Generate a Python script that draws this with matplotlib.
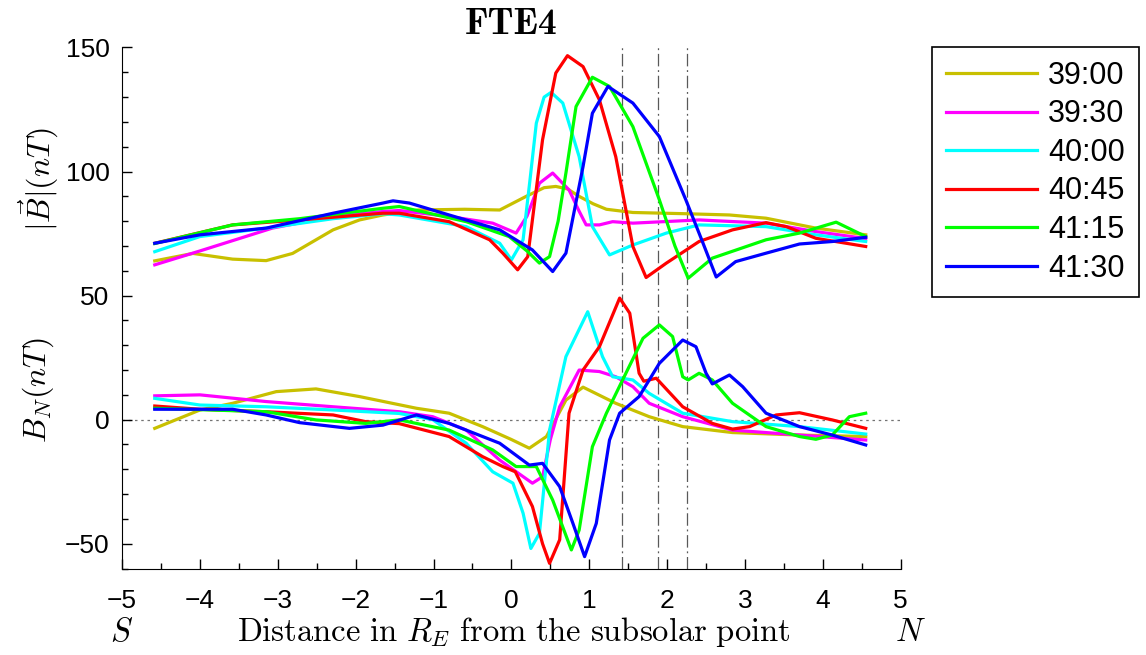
import os
import matplotlib
matplotlib.use("Agg")
import matplotlib.pyplot as plt
from matplotlib.ticker import MultipleLocator
from matplotlib.font_manager import FontProperties

plt.rcParams["font.family"] = ["Liberation Sans", "DejaVu Sans"]
plt.rcParams["mathtext.fontset"] = "cm"

times = ["39:00", "39:30", "40:00", "40:45", "41:15", "41:30"]
colors = ["#c8c000", "#ff00ff", "#00ffff", "#ff0000", "#00ff00", "#0000ff"]
cuts = [1.42, 1.88, 2.25]

# ── |B| (nT) ───────────────────────────────────────────
b3900_x = [-4.58, -4.09, -3.58, -3.15, -2.81, -2.29, -1.95, -1.65, -1.2, -0.6, -0.15, 0.19,
           0.42, 0.57, 0.72, 0.87, 1.05, 1.22, 1.56, 2.24, 2.8, 3.27, 3.91, 4.55]
b3900_y = [64, 67, 64.7, 64.1, 67, 76.5, 80.5, 82.5, 84.5, 84.8, 84.5, 90,
           93.5, 94, 93, 90, 87, 84.8, 83.5, 83, 82.5, 81.2, 77.2, 74.5]
b3930_x = [-4.58, -4.0, -3.07, -2.29, -1.65, -1.44, -0.80, -0.24, 0.06, 0.2, 0.36, 0.53,
           0.74, 0.87, 0.96, 1.13, 1.30, 1.56, 2.41, 3.27, 3.91, 4.55]
b3930_y = [62.4, 68, 77.2, 81.9, 83.9, 84.3, 81.9, 79.2, 75.2, 82, 95.3, 99.4,
           92.6, 84, 78.5, 78.5, 79.8, 79.2, 80.5, 79.2, 75.8, 73]
b4000_x = [-4.58, -4.0, -3.15, -2.29, -1.65, -1.44, -0.58, -0.15, 0.0, 0.15, 0.24, 0.32,
           0.42, 0.51, 0.66, 0.87, 1.04, 1.26, 1.56, 1.99, 2.41, 3.27, 3.91, 4.55]
b4000_y = [67.7, 73.8, 77.2, 81, 83, 82.5, 77.8, 71.1, 64.4, 72.5, 97, 119.5,
           130, 131.9, 127.6, 106, 77.8, 66.4, 70.4, 75.2, 78.5, 77.8, 74.5, 71.8]
b4045_x = [-4.58, -3.58, -2.72, -1.65, -1.44, -0.80, -0.28, -0.11, 0.08, 0.21, 0.30, 0.40,
           0.57, 0.72, 0.92, 1.13, 1.34, 1.56, 1.73, 1.99, 2.41, 2.84, 3.27, 3.53, 3.91, 4.55]
b4045_y = [71.1, 78.5, 80.5, 83.2, 83.2, 79.8, 72.5, 67.1, 60.4, 65.7, 88, 112.8,
           139.7, 146.7, 142.3, 128.9, 106, 69.8, 57.3, 63.1, 71.8, 76.5, 79.4, 77.8, 73.1, 69.8]
b4115_x = [-4.58, -3.58, -2.72, -1.65, -1.44, -0.58, -0.03, 0.2, 0.36, 0.49, 0.60, 0.70,
           0.83, 1.04, 1.26, 1.56, 1.90, 2.1, 2.27, 2.58, 3.27, 3.70, 4.17, 4.55]
b4115_y = [71, 78.5, 81, 85.2, 85.9, 79.8, 73.8, 68, 63.1, 65.7, 80, 99.4,
           126.2, 138, 134.3, 118.1, 88.6, 70, 57, 65.1, 72.5, 75.2, 79.6, 73.8]
b4130_x = [-4.58, -4.0, -3.15, -2.29, -1.65, -1.52, -1.31, -0.80, -0.15, 0.27, 0.53, 0.70,
           0.92, 1.04, 1.24, 1.56, 1.90, 2.24, 2.45, 2.63, 2.88, 3.27, 3.70, 4.12, 4.55]
b4130_y = [71.1, 74.5, 77.2, 83.2, 87.3, 88.2, 87.3, 82.5, 76.5, 68.4, 59.7, 67.1,
           102, 123.5, 134.3, 127.6, 114.1, 88.6, 72, 57.5, 63.7, 67.1, 70.8, 71.8, 73.5]

# ── B_N (nT) ───────────────────────────────────────────
n3900_x = [-4.58, -4.0, -3.58, -3.02, -2.51, -1.95, -1.22, -0.80, -0.37, 0.0, 0.23, 0.45,
           0.70, 0.92, 1.34, 1.77, 2.20, 2.84, 3.70, 4.55]
n3900_y = [-3.5, 3.9, 6.6, 11.3, 12.4, 9.3, 4.6, 2.6, -2.8, -8, -11.5, -6.8,
           7.9, 13.1, 6.6, 1.2, -2.8, -5.2, -6.2, -6.8]
n3930_x = [-4.58, -4.0, -3.15, -2.29, -1.44, -1.01, -0.58, -0.15, 0.27, 0.40, 0.50, 0.62,
           0.87, 1.13, 1.34, 1.56, 1.77, 2.20, 2.84, 3.70, 4.55]
n3930_y = [9.6, 10, 7.3, 5.2, 3.2, 1.2, -4.2, -16.3, -25.6, -23, -8, 5.2,
           20, 19.4, 17.3, 13.3, 6.6, 1.2, -4.2, -6.2, -8.2]
n4000_x = [-4.58, -4.0, -3.15, -2.29, -1.44, -1.01, -0.58, -0.24, 0.02, 0.15, 0.25, 0.36,
           0.49, 0.70, 0.98, 1.17, 1.30, 1.56, 1.77, 2.20, 2.84, 3.70, 4.55]
n4000_y = [8.6, 5.9, 5.2, 3.9, 2.5, 0, -9.5, -21, -25.6, -37.7, -51.9, -45.8,
           -4.2, 25.4, 43.5, 25.4, 17.3, 16, 10.6, 2.6, -0.8, -2.8, -5.8]
n4045_x = [-4.58, -4.0, -3.15, -2.29, -1.87, -1.44, -0.80, -0.37, -0.11, 0.05, 0.27, 0.40,
           0.49, 0.62, 0.74, 0.92, 1.13, 1.39, 1.52, 1.64, 1.70, 1.86, 2.20, 2.58, 2.84,
           3.06, 3.40, 3.70, 4.12, 4.55]
n4045_y = [5.5, 4.2, 3.2, 1.9, -0.8, -1.6, -6.8, -14.9, -18.9, -21, -35, -50,
           -57.9, -48.4, 2.6, 20, 29.4, 49, 42.9, 18.7, 15.5, 16.7, 5.2, -1.5, -3.8,
           -2.8, 1.9, 2.8, -0.1, -3.5]
n4115_x = [-4.58, -3.15, -2.51, -1.87, -1.44, -0.80, -0.24, 0.06, 0.32, 0.53, 0.77, 0.87,
           1.04, 1.22, 1.47, 1.69, 1.90, 2.07, 2.20, 2.27, 2.41, 2.58, 2.84, 3.27, 3.70,
           3.91, 4.12, 4.34, 4.55]
n4115_y = [4.6, 3.2, -0.1, -1.5, -0.1, -4.2, -12.2, -18.9, -18.9, -32.4, -52.5, -44.5,
           -10.9, 2.6, 18.7, 32.8, 38.2, 33.5, 17.3, 16, 18.7, 16, 6.6, -2.8, -6.8,
           -7.9, -6.2, 1.2, 2.6]
n4130_x = [-4.58, -3.58, -3.15, -2.72, -2.08, -1.65, -1.22, -0.80, -0.15, 0.23, 0.40, 0.62,
           0.79, 0.94, 1.09, 1.26, 1.39, 1.64, 1.90, 2.20, 2.37, 2.50, 2.58, 2.80, 2.97,
           3.27, 3.70, 4.12, 4.55]
n4130_y = [4.2, 4.2, 1.9, -1.2, -3.5, -2.2, 1.9, -1.5, -9.5, -18.3, -17.6, -27,
           -41.8, -55.2, -41.8, -8.2, 2.6, 9.3, 22.7, 32.1, 29.4, 18.7, 14.4, 18, 13.3,
           2.6, -2.8, -6.2, -10.2]

btot = [(b3900_x, b3900_y), (b3930_x, b3930_y), (b4000_x, b4000_y),
        (b4045_x, b4045_y), (b4115_x, b4115_y), (b4130_x, b4130_y)]
bnorm = [(n3900_x, n3900_y), (n3930_x, n3930_y), (n4000_x, n4000_y),
         (n4045_x, n4045_y), (n4115_x, n4115_y), (n4130_x, n4130_y)]

fig = plt.figure(figsize=(11.46, 6.55), dpi=100)
ax = fig.add_axes([0.1065, 0.132, 0.6795, 0.7955])

ax.axhline(0, color="0.45", linestyle=(0, (2, 3)), linewidth=0.9, zorder=1)
for c in cuts:
    ax.axvline(c, color="0.35", linestyle=(0, (10, 3, 1.5, 3)), linewidth=0.9, zorder=1)

handles = []
for (bx, by), (nx, ny), col, lab in zip(btot, bnorm, colors, times):
    h, = ax.plot(bx, by, color=col, linewidth=2.3, label=lab, zorder=3)
    ax.plot(nx, ny, color=col, linewidth=2.3, zorder=3)
    handles.append(h)

ax.set_xlim(-5, 5)
ax.set_ylim(-60, 150)
ax.set_xticks(range(-5, 6))
ax.set_yticks([-50, 0, 50, 100, 150])
ax.xaxis.set_minor_locator(MultipleLocator(0.5))
ax.yaxis.set_minor_locator(MultipleLocator(10))
ax.tick_params(which="both", direction="in", top=False, right=False,
               labelsize=19, width=1)
ax.tick_params(which="major", length=7)
ax.tick_params(which="minor", length=4)
ax.tick_params(axis="x", which="major", pad=15)
ax.tick_params(axis="y", which="major", pad=9)
for s in ["top", "right"]:
    ax.spines[s].set_visible(False)

# bold Computer Modern for the title (digits included)
cmb = FontProperties(fname=os.path.join(matplotlib.get_data_path(), "fonts/ttf/cmb10.ttf"),
                     size=27)
ax.set_title("FTE4", fontproperties=cmb, pad=10)

ax.text(-6.08, 97, r"$|\vec{B}|(nT)$", rotation=90, ha="center", va="center",
        fontsize=23, clip_on=False)
ax.text(-6.08, 12, r"$B_N(nT)$", rotation=90, ha="center", va="center",
        fontsize=23, clip_on=False)
ax.text(0.03, -85.6, r"$\mathrm{Distance\ in\ }R_E\mathrm{\ from\ the\ subsolar\ point}$",
        ha="center", va="center", fontsize=23.5, clip_on=False)
ax.text(-5.0, -85.6, r"$S$", ha="center", va="center", fontsize=23.5, clip_on=False)
ax.text(5.12, -85.6, r"$N$", ha="center", va="center", fontsize=23.5, clip_on=False)

leg = fig.legend(handles=handles, loc="upper left",
                 bbox_to_anchor=(932 / 1146, 1 - 47 / 655), borderaxespad=0,
                 fontsize=22, handlelength=3.0, handletextpad=0.35,
                 labelspacing=0.28, borderpad=0.45, fancybox=False,
                 edgecolor="black", framealpha=1)
leg.get_frame().set_linewidth(1.2)

fig.savefig("out.png", dpi=100)
